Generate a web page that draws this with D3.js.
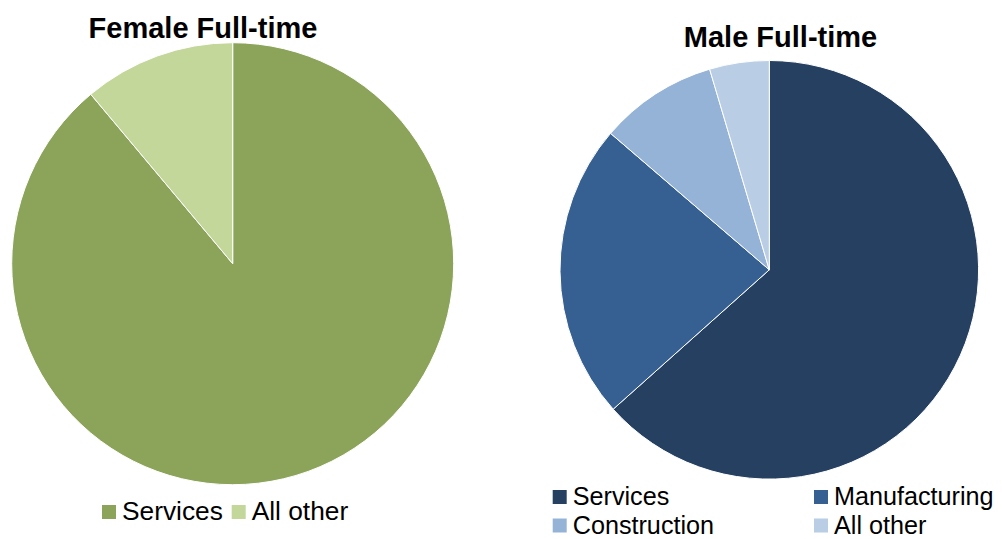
<!DOCTYPE html>
<html><head><meta charset="utf-8">
<script src="https://cdn.jsdelivr.net/npm/d3@7"></script>
<style>body{margin:0;background:#fff}svg{display:block}text{font-family:"Liberation Sans",Arial,sans-serif}</style>
</head><body><svg id="c" width="1002" height="539"></svg>
<script>
const femaleCategories = ["Services", "All other"];
const femaleValues = [88.9, 11.1];
const femaleColors = ["#8CA45A", "#C4D79B"];
const maleCategories = ["Services", "Manufacturing", "Construction", "All other"];
const maleValues = [63.4, 22.9, 9.1, 4.6];
const maleColors = ["#264062", "#376092", "#95B3D7", "#B9CDE5"];

const svg = d3.select("#c");
const pie = d3.pie().sort(null).value(d => d);

function drawPie(cfg){
  const g = svg.append("g").attr("transform", `translate(${cfg.cx},${cfg.cy})`);
  const arc = d3.arc().innerRadius(0).outerRadius(cfg.r);
  const color = d3.scaleOrdinal().domain(cfg.cats).range(cfg.colors);
  g.selectAll("path").data(pie(cfg.vals)).join("path")
    .attr("d", arc)
    .attr("fill", (d,i) => color(cfg.cats[i]))
    .attr("stroke", "#fff").attr("stroke-width", 1);
  svg.append("text").attr("x", cfg.tx).attr("y", cfg.ty)
    .attr("text-anchor", "middle").attr("font-weight", "bold")
    .attr("font-size", 29).attr("fill", "#000").text(cfg.title);
  const lg = svg.append("g");
  cfg.legend.forEach((p, i) => {
    lg.append("rect").attr("x", p[0]).attr("y", p[1] - 14).attr("width", 14).attr("height", 14)
      .attr("fill", color(cfg.cats[i]));
    lg.append("text").attr("x", p[0] + 20).attr("y", p[1] + 1)
      .attr("font-size", cfg.fs).attr("fill", "#000").text(cfg.cats[i]);
  });
}

drawPie({cx: 232.7, cy: 263.7, r: 221, cats: femaleCategories, vals: femaleValues, colors: femaleColors,
  title: "Female Full-time", tx: 203, ty: 38, fs: 26.3,
  legend: [[102, 519], [231.7, 519]]});
drawPie({cx: 769.3, cy: 269.8, r: 209.3, cats: maleCategories, vals: maleValues, colors: maleColors,
  title: "Male Full-time", tx: 780.5, ty: 47, fs: 25.2,
  legend: [[552.7, 504], [814, 504], [552.7, 532.5], [814, 532.5]]});
</script></body></html>
